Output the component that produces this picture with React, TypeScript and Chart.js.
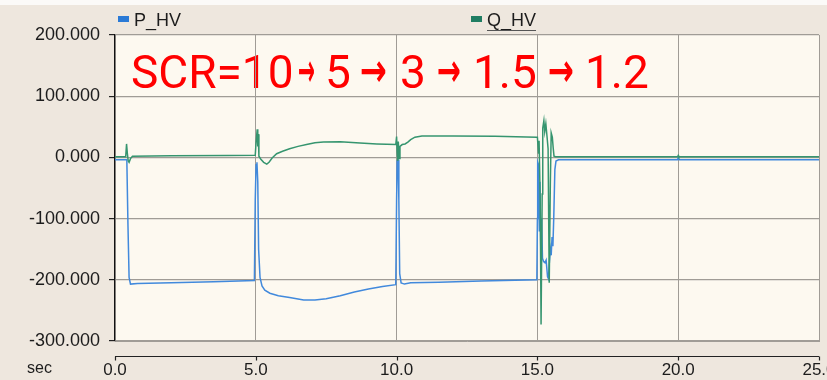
import React, { useEffect, useRef } from "react";
import { Chart, registerables } from "chart.js";

Chart.register(...registerables);

const seriesNames = ["P_HV", "Q_HV"];
const xTickValues = [0, 5, 10, 15, 20, 25];
const yTickValues = [200, 100, 0, -100, -200, -300];
const xAxisUnit = "sec";
const annotationParts = ["SCR=10", "\u2192", "5", "\u2192", "3", "\u2192", "1.5", "\u2192", "1.2"];

const pTime = [
  0, 0.42, 0.46, 0.5, 0.55, 0.8, 2, 3.5, 4.95, 4.98, 5.01, 5.04, 5.07, 5.1, 5.15, 5.22, 5.32, 5.5, 5.8, 6.2,
  6.7, 7.1, 7.5, 8.0, 8.5, 9.0, 9.5, 9.97, 10.0, 10.02, 10.05, 10.08, 10.11, 10.16, 10.28, 10.5, 11.5, 13,
  14.98, 15.0, 15.01, 15.04, 15.07, 15.09, 15.12, 15.15, 15.18, 15.22, 15.27, 15.31, 15.36, 15.39, 15.42,
  15.46, 15.49, 15.52, 15.55, 15.58, 15.62, 15.66, 15.75, 19.97, 20.0, 20.03, 25,
];
const pValue = [
  -4, -4, -110, -196, -207, -206, -205, -203, -201, -70, -12, -8, -40, -150, -196, -210, -217, -222, -226, -229,
  -233, -233, -231, -226, -220, -215, -211, -208, -70, -5, -4, -70, -190, -205, -207, -205, -204, -202,
  -200, -100, -8, -12, -120, -40, -150, -100, -165, -170, -172, -168, -195, -198, -175,
  -150, -160, -130, -145, -100, -20, -6, -4, -4, -1, -4, -4,
];

const qTime = [
  0, 0.38, 0.41, 0.44, 0.47, 0.5, 0.55, 0.62, 2, 4, 4.98, 5.01, 5.05, 5.07, 5.09, 5.11, 5.18, 5.28, 5.39, 5.47,
  5.58, 5.74, 5.95, 6.2, 6.5, 6.8, 7.1, 7.4, 8.0, 8.7, 9.3, 9.97, 10.0, 10.02, 10.04, 10.06, 10.09, 10.12,
  10.2, 10.3, 10.4, 10.5, 10.65, 10.9, 12, 13.5, 14.98, 15.0, 15.04, 15.06, 15.1, 15.13, 15.17, 15.19, 15.23,
  15.26, 15.3, 15.34, 15.38, 15.42, 15.46, 15.49, 15.53, 15.56, 15.59, 15.64, 19.98, 20.0, 20.02, 25,
];
const qValue = [
  1, 1, 22, 6, -6, -8, -2, 2, 2.5, 3, 3.5, 25, 46, 18, 38, 2, -3, -8, -11, -8,
  -1, 6, 10, 14, 18, 21, 24, 25, 25.5, 23.5, 22, 21, 34, 8, -6, 26, -2, 18,
  21, 22, 25, 29, 33, 35, 35, 34.5, 33, 33, 6, 27, -72, -273, -60, 48, 60,
  42, 55, 35, 14, -205, -40, 40, 33, 16, 2, 1, 1, 3, 1, 1,
];

const P_COLOR = "#4189dc";
const Q_COLOR = "#36956f";
const P_LEGEND = "#2a7ad6";
const Q_LEGEND = "#1f7d62";
const GRID = "#a09c96";
const TEXT = "#1c1c1c";
const TICK_FONT = "'Liberation Sans', Arial, sans-serif";

const annotationX = [131, 298, 325, 360, 400, 437, 473, 548, 585];
const arrowWidth = [17, 27, 24, 26];

const decorPlugin = {
  id: "decor",
  beforeDraw(chart: any) {
    const { ctx, chartArea: a, width, height } = chart;
    ctx.save();
    ctx.fillStyle = "#eee7de";
    ctx.fillRect(0, 0, width, height);
    ctx.fillStyle = "#fbfaf8";
    ctx.fillRect(0, 0, width, 5);
    ctx.fillStyle = "#fdf9f0";
    ctx.fillRect(a.left, a.top, a.right - a.left, a.bottom - a.top);
    ctx.fillStyle = "#ff0000";
    ctx.textAlign = "left";
    ctx.textBaseline = "alphabetic";
    const textFont = "46px Roboto, 'Liberation Sans', sans-serif";
    const arrowFont = "bold 46px 'DejaVu Sans', sans-serif";
    let ai = 0;
    annotationParts.forEach((part, i) => {
      const x = annotationX[i];
      if (i % 2 === 0) {
        ctx.font = textFont;
        ctx.fillText(part, x, 88);
      } else {
        ctx.font = arrowFont;
        const w = ctx.measureText(part).width;
        ctx.save();
        ctx.translate(x, 86);
        ctx.scale(arrowWidth[ai] / w, 1);
        ctx.fillText(part, 0, 0);
        ctx.restore();
        ai++;
      }
    });
    ctx.restore();
  },
  afterDraw(chart: any) {
    const { ctx } = chart;
    const xs = chart.scales.x;
    ctx.save();
    const yLine = 356.5;
    ctx.strokeStyle = "#222";
    ctx.lineWidth = 1.2;
    ctx.beginPath();
    ctx.moveTo(xs.getPixelForValue(xTickValues[0]), yLine);
    ctx.lineTo(xs.getPixelForValue(xTickValues[xTickValues.length - 1]), yLine);
    xTickValues.forEach((v) => {
      const px = Math.round(xs.getPixelForValue(v)) + 0.5;
      ctx.moveTo(px, yLine);
      ctx.lineTo(px, yLine + 4);
    });
    ctx.stroke();
    ctx.fillStyle = TEXT;
    ctx.font = "16px " + TICK_FONT;
    ctx.textBaseline = "middle";
    ctx.textAlign = "left";
    ctx.fillText(xAxisUnit, 27, 369);
    const ds = chart.data.datasets;
    ctx.font = "18px " + TICK_FONT;
    ctx.textBaseline = "alphabetic";
    ctx.fillStyle = P_LEGEND;
    ctx.fillRect(118, 16, 11, 6);
    ctx.fillStyle = TEXT;
    ctx.fillText(ds[0].label, 134, 26);
    ctx.fillStyle = Q_LEGEND;
    ctx.fillRect(471, 16, 11, 6);
    ctx.fillStyle = TEXT;
    ctx.fillText(ds[1].label, 487, 26);
    const qw = ctx.measureText(ds[1].label).width;
    ctx.strokeStyle = "#555";
    ctx.lineWidth = 1;
    ctx.beginPath();
    ctx.moveTo(487, 30.5);
    ctx.lineTo(487 + qw, 30.5);
    ctx.stroke();
    ctx.restore();
  },
};

export default function App() {
  const ref = useRef<HTMLCanvasElement>(null);
  useEffect(() => {
    document.body.style.margin = "0";
    const canvas = ref.current!;
    const chart = new Chart(canvas, {
      type: "line",
      data: {
        datasets: [
          {
            label: seriesNames[0],
            data: pTime.map((t, i) => ({ x: t, y: pValue[i] })),
            borderColor: P_COLOR,
            borderWidth: 1.5,
            pointRadius: 0,
            tension: 0,
            fill: false,
            order: 2,
          },
          {
            label: seriesNames[1],
            data: qTime.map((t, i) => ({ x: t, y: qValue[i] })),
            borderColor: Q_COLOR,
            borderWidth: 1.5,
            pointRadius: 0,
            tension: 0,
            fill: false,
            order: 1,
          },
        ],
      },
      options: {
        responsive: false,
        animation: false,
        devicePixelRatio: 1,
        layout: { padding: { top: 35, right: 8, left: 0, bottom: 0 } },
        plugins: { legend: { display: false }, tooltip: { enabled: false } },
        scales: {
          x: {
            type: "linear",
            min: 0,
            max: 25,
            afterBuildTicks: (s: any) => {
              s.ticks = xTickValues.map((v) => ({ value: v }));
            },
            afterFit: (s: any) => {
              s.height = 39;
              s.paddingLeft = 0;
              s.paddingRight = 0;
            },
            ticks: {
              callback: (v: any) => Number(v).toFixed(1),
              font: { family: TICK_FONT, size: 17 },
              color: TEXT,
              padding: 19,
              maxRotation: 0,
              autoSkip: false,
            },
            grid: { color: GRID, lineWidth: 1, drawTicks: false },
            border: { display: true, color: GRID },
          },
          y: {
            type: "linear",
            min: -300,
            max: 200,
            afterBuildTicks: (s: any) => {
              s.ticks = yTickValues.map((v) => ({ value: v }));
            },
            afterFit: (s: any) => {
              s.width = 115;
            },
            ticks: {
              callback: (v: any) => Number(v).toFixed(3),
              font: { family: TICK_FONT, size: 18 },
              color: TEXT,
              padding: 9,
            },
            grid: { color: GRID, lineWidth: 1.2, tickColor: "#222", tickLength: 6 },
            border: { display: true, color: "#111", width: 1.2 },
          },
        },
      },
      plugins: [decorPlugin],
    } as any);
    return () => chart.destroy();
  }, []);
  return (
    <div style={{ position: "fixed", left: 0, top: 0, width: 827, height: 380 }}>
      <canvas ref={ref} width={827} height={380} style={{ width: 827, height: 380, display: "block" }} />
    </div>
  );
}
